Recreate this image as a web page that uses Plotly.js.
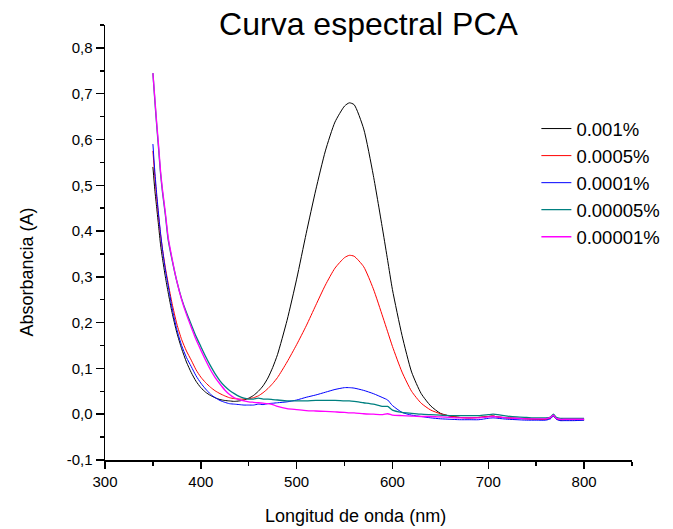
<!DOCTYPE html>
<html>
<head>
<meta charset="utf-8">
<script src="https://cdn.plot.ly/plotly-3.0.1.min.js"></script>
<style>html,body{margin:0;padding:0;background:#fff;}#chart{width:673px;height:529px;}</style>
</head>
<body>
<div id="chart"></div>
<script>
const wavelength = [350,352,354,356,358,360,363,366,370,375,380,385,390,395,400,405,410,415,420,425,430,435,440,445,450,455,460,465,470,475,480,490,500,510,520,530,540,550,555,560,570,580,590,595,600,610,620,630,640,650,660,670,680,690,700,705,710,720,730,740,750,760,765,768,771,775,780,790,800];

const conc_0_001 = [0.540,0.490,0.450,0.410,0.370,0.340,0.300,0.265,0.222,0.178,0.143,0.114,0.091,0.072,0.058,0.048,0.041,0.036,0.032,0.030,0.029,0.028,0.029,0.031,0.035,0.041,0.050,0.062,0.079,0.102,0.130,0.205,0.295,0.395,0.490,0.575,0.638,0.673,0.680,0.676,0.623,0.522,0.400,0.336,0.272,0.172,0.092,0.045,0.018,0.002,-0.004,-0.007,-0.008,-0.007,-0.005,-0.004,-0.006,-0.008,-0.009,-0.010,-0.011,-0.011,-0.008,-0.003,-0.010,-0.013,-0.012,-0.012,-0.012];

const conc_0_0005 = [0.575,0.520,0.472,0.430,0.392,0.360,0.320,0.285,0.242,0.197,0.163,0.138,0.118,0.097,0.081,0.069,0.059,0.051,0.045,0.040,0.036,0.034,0.033,0.033,0.034,0.036,0.040,0.047,0.056,0.067,0.080,0.114,0.152,0.193,0.238,0.282,0.319,0.342,0.347,0.345,0.322,0.274,0.212,0.180,0.148,0.092,0.050,0.024,0.009,0.001,-0.004,-0.007,-0.008,-0.007,-0.005,-0.004,-0.006,-0.008,-0.009,-0.010,-0.011,-0.011,-0.008,-0.003,-0.010,-0.012,-0.012,-0.012,-0.012];

const conc_0_0001 = [0.590,0.530,0.480,0.435,0.395,0.360,0.315,0.280,0.232,0.185,0.150,0.124,0.104,0.084,0.068,0.055,0.044,0.036,0.030,0.026,0.023,0.022,0.021,0.020,0.020,0.020,0.022,0.021,0.023,0.024,0.025,0.027,0.031,0.037,0.042,0.048,0.054,0.058,0.058,0.057,0.052,0.045,0.036,0.031,0.019,0.004,-0.002,-0.005,-0.008,-0.010,-0.011,-0.012,-0.012,-0.012,-0.009,-0.008,-0.009,-0.011,-0.012,-0.013,-0.013,-0.013,-0.010,-0.004,-0.011,-0.014,-0.014,-0.014,-0.013];

const conc_0_00005 = [0.745,0.685,0.630,0.578,0.525,0.485,0.435,0.380,0.337,0.290,0.252,0.222,0.196,0.170,0.148,0.126,0.106,0.088,0.073,0.061,0.052,0.045,0.039,0.035,0.033,0.033,0.035,0.033,0.033,0.032,0.031,0.029,0.029,0.029,0.030,0.030,0.030,0.029,0.029,0.028,0.025,0.022,0.017,0.017,0.009,0.004,0.002,0.000,-0.001,-0.002,-0.003,-0.003,-0.003,-0.003,-0.001,0.000,-0.001,-0.004,-0.006,-0.007,-0.008,-0.008,-0.006,0.000,-0.007,-0.009,-0.009,-0.009,-0.009];

const conc_0_00001 = [0.745,0.690,0.635,0.585,0.530,0.490,0.440,0.385,0.340,0.290,0.250,0.218,0.190,0.163,0.140,0.118,0.097,0.080,0.066,0.053,0.043,0.036,0.032,0.029,0.027,0.026,0.025,0.024,0.023,0.021,0.017,0.012,0.010,0.008,0.007,0.006,0.005,0.004,0.003,0.003,0.001,0.000,-0.001,0.001,-0.002,-0.003,-0.004,-0.005,-0.005,-0.006,-0.007,-0.008,-0.008,-0.008,-0.006,-0.005,-0.006,-0.008,-0.009,-0.010,-0.010,-0.010,-0.007,-0.002,-0.009,-0.011,-0.011,-0.011,-0.011];

const seriesNames = ["0.001%","0.0005%","0.0001%","0.00005%","0.00001%"];
const seriesColors = ["#000000","#ff0000","#0000ff","#008080","#ff00ff"];
const seriesWidths = [1,1,1,1.3,1.3];
const seriesValues = [conc_0_001, conc_0_0005, conc_0_0001, conc_0_00005, conc_0_00001];

const xTickVals = [300,400,500,600,700,800];
const xTickText = ["300","400","500","600","700","800"];
const yTickVals = [-0.1,0,0.1,0.2,0.3,0.4,0.5,0.6,0.7,0.8];
const yTickText = ["-0,1","0,0","0,1","0,2","0,3","0,4","0,5","0,6","0,7","0,8"];

const chartTitle = "Curva espectral PCA";
const xTitle = "Longitud de onda (nm)";
const yTitle = "Absorbancia (A)";

const FONT = "Liberation Sans, Arial, sans-serif";

const traces = seriesValues.map((vals, i) => ({
  type: "scatter",
  mode: "lines",
  x: wavelength,
  y: vals,
  name: seriesNames[i],
  line: {color: seriesColors[i], width: seriesWidths[i], shape: "spline", smoothing: 0.6}
}));

const layout = {
  width: 673,
  height: 529,
  margin: {l: 105, r: 41, t: 25, b: 69, autoexpand: false},
  paper_bgcolor: "#ffffff",
  plot_bgcolor: "#ffffff",
  font: {family: FONT, color: "#000000", size: 15},
  title: {
    text: chartTitle,
    font: {family: FONT, size: 32, color: "#000"},
    x: 0.5, xanchor: "center", xref: "paper",
    y: 0.955, yanchor: "middle", yref: "container"
  },
  showlegend: true,
  legend: {
    xref: "container", yref: "container",
    x: 0.797, y: 0.792, xanchor: "left", yanchor: "top",
    font: {family: FONT, size: 18.5, color: "#000"},
    bgcolor: "rgba(0,0,0,0)",
    borderwidth: 0
  },
  annotations: [
    {text: xTitle, xref: "paper", yref: "paper", x: 0.475, y: -0.128, xanchor: "center", yanchor: "middle",
     showarrow: false, font: {family: FONT, size: 18, color: "#000"}},
    {text: yTitle, xref: "paper", yref: "paper", x: -0.147, y: 0.432, xanchor: "center", yanchor: "middle",
     textangle: -90, showarrow: false, font: {family: FONT, size: 18, color: "#000"}}
  ],
  xaxis: {
    range: [300, 850],
    showgrid: false, zeroline: false,
    showline: true, linecolor: "#000", linewidth: 1.5,
    ticks: "outside", ticklen: 7, tickwidth: 1.5, tickcolor: "#000",
    tickmode: "array", tickvals: xTickVals, ticktext: xTickText,
    tickfont: {family: FONT, size: 15},
    minor: {dtick: 50, tick0: 300, ticks: "outside", ticklen: 4, tickwidth: 1.5, tickcolor: "#000", showgrid: false}
  },
  yaxis: {
    range: [-0.1, 0.85],
    showgrid: false, zeroline: false,
    showline: true, linecolor: "#000", linewidth: 1.5,
    ticks: "outside", ticklen: 8, tickwidth: 1.5, tickcolor: "#000",
    tickmode: "array", tickvals: yTickVals, ticktext: yTickText,
    tickfont: {family: FONT, size: 15},
    minor: {dtick: 0.05, tick0: -0.1, ticks: "outside", ticklen: 4, tickwidth: 1.5, tickcolor: "#000", showgrid: false}
  }
};

Plotly.newPlot("chart", traces, layout, {displayModeBar: false, staticPlot: true});
</script>
</body>
</html>
